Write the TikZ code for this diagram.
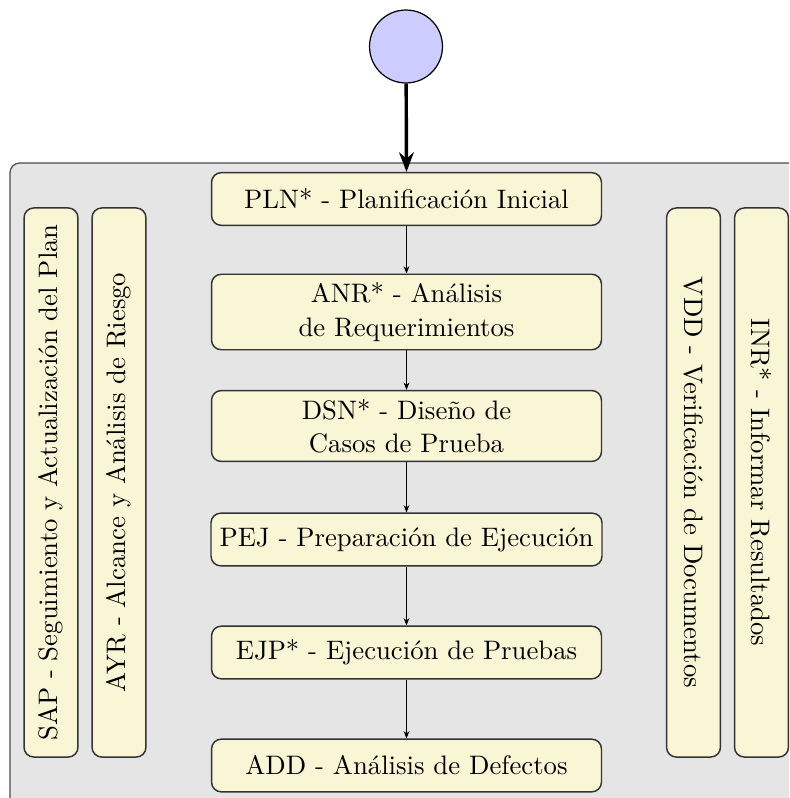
\documentclass[tikz,border=0pt]{standalone}
\usetikzlibrary{arrows.meta}

\definecolor{panelgray}{RGB}{229,229,229}
\definecolor{boxfill}{RGB}{249,246,214}
\definecolor{startfill}{RGB}{204,204,255}

\tikzset{
  x=0.4098pt, y=-0.4098pt,
  every node/.style={font=\fontsize{10.95}{13.6}\selectfont},
  stage/.style={draw=black!80, line width=0.6pt, fill=boxfill, rounded corners=4pt,
    minimum width=159.8pt, minimum height=21.6pt, inner sep=3.5pt, align=center},
  lane/.style={draw=black!80, line width=0.6pt, fill=boxfill, rounded corners=4pt,
    minimum width=225pt, minimum height=22.1pt, inner sep=2pt},
  flow/.style={-{Stealth[length=3pt,width=2.4pt]}, line width=0.4pt, black},
  startdot/.style={circle, draw=black, line width=0.5pt, fill=startfill,
    minimum size=29.9pt, inner sep=0pt}
}

\begin{document}
\begin{tikzpicture}
  \useasboundingbox (0,0) rectangle (789,798);

  % background panel, running past the page on the right and bottom
  \begin{scope}
    \clip (0,0) rectangle (789,798);
    \draw[fill=panelgray, draw=black!70, line width=0.5pt, rounded corners=4pt]
      (10,163) rectangle (840,860);
  \end{scope}

  % start marker
  \node[startdot] (start) at (406,46.5) {};

  % main sequence of stages
  \node[stage] (pln) at (406.5,199)   {PLN* - Planificación Inicial};
  \node[stage] (anr) at (406.5,312)   {ANR* - Análisis\\de Requerimientos};
  \node[stage] (dsn) at (406.5,426)   {DSN* - Diseño de\\Casos de Prueba};
  \node[stage] (pej) at (406.5,539.5) {PEJ - Preparación de Ejecución};
  \node[stage] (ejp) at (406.5,652.5) {EJP* - Ejecución de Pruebas};
  \node[stage] (add) at (406.5,765.5) {ADD - Análisis de Defectos};

  % cross-cutting activities
  \node[lane, rotate=90]  (sap) at (51,482.5)    {SAP - Seguimiento y Actualización del Plan};
  \node[lane, rotate=90]  (ayr) at (119,482.5)   {AYR - Alcance y Análisis de Riesgo};
  \node[lane, rotate=-90] (vdd) at (693.5,482.5) {VDD - Verificación de Documentos};
  \node[lane, rotate=-90] (inr) at (761.5,482.5) {INR* - Informar Resultados};

  % connectors
  \draw[line width=1.4pt, -{Stealth[length=8pt,width=6pt]}] (start) -- (pln.north);
  \draw[flow] (pln) -- (anr);
  \draw[flow] (anr) -- (dsn);
  \draw[flow] (dsn) -- (pej);
  \draw[flow] (pej) -- (ejp);
  \draw[flow] (ejp) -- (add);
\end{tikzpicture}
\end{document}
